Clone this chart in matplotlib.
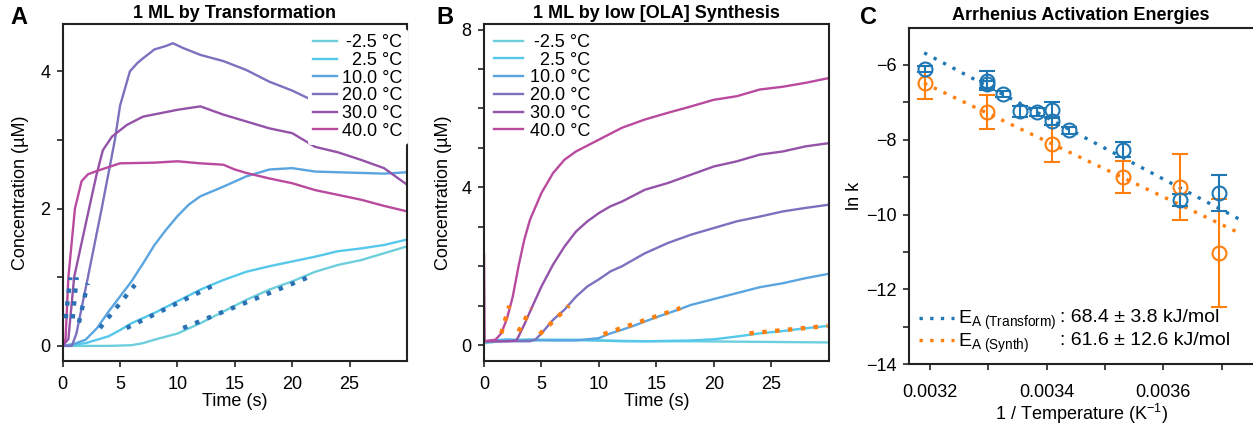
import numpy as np
import matplotlib
matplotlib.use("Agg")
import matplotlib.pyplot as plt
from matplotlib.ticker import MultipleLocator, FuncFormatter
from matplotlib.lines import Line2D

plt.rcParams['font.family'] = ['Liberation Sans', 'DejaVu Sans']
plt.rcParams['mathtext.fontset'] = 'custom'
plt.rcParams['mathtext.rm'] = 'Liberation Sans'
plt.rcParams['mathtext.it'] = 'Liberation Sans:italic'
plt.rcParams['font.size'] = 13

# ---------------- data ----------------
temps = ['-2.5 °C', '2.5 °C', '10.0 °C', '20.0 °C', '30.0 °C', '40.0 °C']
colors = ['#6dcfdc', '#55c8ec', '#5aa5e0', '#7a72bf', '#9452a8', '#b94a9e']

# Panel A: 1 ML by transformation (time s, concentration uM)
a_m25_t = [0, 4, 6, 7, 8, 10, 12, 14, 16, 18, 20, 22, 24, 26, 28, 30]
a_m25_c = [0, 0.0, 0.01, 0.04, 0.09, 0.18, 0.33, 0.5, 0.67, 0.82, 0.94, 1.08, 1.18, 1.25, 1.35, 1.45]
a_p25_t = [0, 2, 4, 5, 6, 8, 10, 12, 14, 16, 18, 20, 22, 24, 26, 28, 30]
a_p25_c = [0, 0.04, 0.14, 0.23, 0.33, 0.48, 0.65, 0.82, 0.96, 1.08, 1.16, 1.23, 1.3, 1.38, 1.42, 1.47, 1.55]
a_10_t = [0, 1, 2, 3, 4, 5, 6, 7, 8, 9, 10, 11, 12, 14, 16, 18, 20, 22, 24, 26, 28, 30]
a_10_c = [0, 0.03, 0.09, 0.26, 0.5, 0.72, 0.94, 1.2, 1.47, 1.69, 1.89, 2.06, 2.18, 2.32, 2.47, 2.57, 2.59, 2.54, 2.53, 2.52, 2.51, 2.53]
a_20_t = [0, 0.8, 1.2, 2.2, 3.4, 4.55, 5.0, 5.86, 6.5, 7.0, 8.0, 9.0, 9.6, 10.5, 12, 14, 16, 18, 20, 22, 24, 26, 28, 30]
a_20_c = [0, 0.0, 0.18, 1.0, 2.0, 3.0, 3.5, 4.0, 4.12, 4.19, 4.32, 4.37, 4.41, 4.34, 4.24, 4.15, 4.02, 3.85, 3.72, 3.56, 3.45, 3.35, 3.25, 3.17]
a_30_t = [0, 0.5, 1.0, 2.3, 2.96, 3.5, 4.3, 5.6, 7, 10, 12, 14, 16, 18, 20, 21, 22, 24, 26, 28, 30]
a_30_c = [0, 0.1, 1.0, 2.0, 2.5, 2.85, 3.05, 3.22, 3.34, 3.44, 3.49, 3.37, 3.27, 3.17, 3.1, 3.0, 2.9, 2.82, 2.71, 2.59, 2.35]
a_40_t = [0, 0.25, 0.5, 1.07, 1.65, 2.2, 3, 5, 8, 10, 12, 14, 15, 16, 18, 20, 22, 24, 26, 28, 30]
a_40_c = [0, 0.1, 1.0, 2.0, 2.4, 2.5, 2.55, 2.66, 2.67, 2.69, 2.66, 2.64, 2.57, 2.52, 2.44, 2.37, 2.27, 2.2, 2.13, 2.04, 1.96]

# Panel A linear fits (start/end time, start/end conc)
a_fit_t = [(10.5, 21.4), (5.57, 13.25), (3.25, 6.3), (1.42, 2.18), (0.87, 1.22), (0.26, 0.67)]
a_fit_c = [(0.26, 1.0), (0.26, 0.89), (0.26, 0.89), (0.34, 0.91), (0.4, 1.0), (0.4, 1.0)]

# Panel B: 1 ML by low [OLA] synthesis
b_m25_t = [0, 2, 4, 6, 8, 10, 14, 18, 22, 26, 30]
b_m25_c = [0.05, 0.12, 0.15, 0.13, 0.14, 0.12, 0.1, 0.1, 0.09, 0.08, 0.07]
b_p25_t = [0, 2, 4, 6, 8, 10, 12, 14, 16, 18, 20, 22, 24, 26, 28, 30]
b_p25_c = [0.1, 0.15, 0.12, 0.14, 0.13, 0.12, 0.1, 0.1, 0.11, 0.12, 0.15, 0.22, 0.3, 0.36, 0.43, 0.49]
b_10_t = [0, 2, 4, 6, 8, 10, 11, 12, 13, 14, 15, 16, 17, 18, 20, 22, 24, 26, 28, 30]
b_10_c = [0.1, 0.12, 0.13, 0.12, 0.12, 0.18, 0.3, 0.39, 0.49, 0.6, 0.71, 0.81, 0.91, 1.02, 1.17, 1.32, 1.47, 1.57, 1.7, 1.81]
b_20_t = [0, 2, 4, 4.5, 5, 6, 7, 8, 9, 10, 11, 12, 14, 16, 18, 20, 22, 24, 26, 28, 30]
b_20_c = [0.1, 0.1, 0.1, 0.15, 0.3, 0.64, 0.9, 1.23, 1.49, 1.67, 1.87, 2.0, 2.33, 2.59, 2.8, 2.97, 3.14, 3.26, 3.39, 3.48, 3.56]
b_30_t = [0, 2, 2.8, 3, 3.5, 4, 5, 6, 7, 8, 9, 10, 11, 12, 14, 16, 18, 20, 22, 24, 26, 28, 30]
b_30_c = [0.1, 0.1, 0.12, 0.22, 0.52, 0.85, 1.49, 2.04, 2.5, 2.88, 3.14, 3.35, 3.52, 3.64, 3.94, 4.11, 4.32, 4.53, 4.66, 4.83, 4.91, 5.04, 5.12]
b_40_t = [0, 0.05, 1, 1.5, 2, 2.5, 3, 3.5, 4, 5, 6, 7, 8, 10, 12, 14, 16, 18, 20, 22, 24, 26, 28, 30]
b_40_c = [2.3, 0.1, 0.14, 0.3, 0.68, 1.23, 2.0, 2.67, 3.18, 3.86, 4.36, 4.7, 4.91, 5.21, 5.51, 5.72, 5.89, 6.05, 6.22, 6.31, 6.48, 6.55, 6.65, 6.77]

b_fit_t = [(23.1, 29.9), (10.4, 17.1), (4.85, 7.4), (3.0, 4.1), (1.5, 2.2)]
b_fit_c = [(0.3, 0.49), (0.28, 0.94), (0.28, 1.0), (0.35, 0.94), (0.3, 1.0)]

# Panel C: Arrhenius
c_tr_x = [0.003191, 0.003298, 0.003298, 0.003325, 0.003354, 0.003383, 0.00341, 0.00341, 0.003439, 0.003531, 0.003629, 0.003696]
c_tr_y = [-6.11, -6.42, -6.52, -6.78, -7.24, -7.26, -7.2, -7.51, -7.75, -8.27, -9.62, -9.42]
c_tr_e = [0.08, 0.25, 0.1, 0.08, 0.15, 0.1, 0.2, 0.1, 0.1, 0.2, 0.16, 0.47]
c_sy_x = [0.003191, 0.003298, 0.00341, 0.003531, 0.003629, 0.003696]
c_sy_y = [-6.47, -7.26, -8.1, -9.0, -9.26, -11.02]
c_sy_e = [0.44, 0.46, 0.5, 0.43, 0.88, 1.44]
ea_tr, ea_tr_err = 68.4, 3.8     # kJ/mol
ea_sy, ea_sy_err = 61.6, 12.6
lnA_tr, lnA_sy = 20.57, 17.15
fit_x_range = (0.00319, 0.00373)
R_gas = 8.314e-3

# ---------------- figure ----------------
fig = plt.figure(figsize=(12.53, 4.25), dpi=100)
axA = fig.add_axes([0.050, 0.1506, 0.2748, 0.7929])
axB = fig.add_axes([0.3863, 0.1506, 0.2751, 0.7929])
axC = fig.add_axes([0.7257, 0.1428, 0.2743, 0.7906])

spine_col = '#222222'
for ax in (axA, axB, axC):
    for s in ax.spines.values():
        s.set_linewidth(1.5)
        s.set_color(spine_col)
    ax.tick_params(direction='out', length=4, width=1.2, labelsize=13, color=spine_col, pad=5)
    ax.tick_params(axis='x', pad=7)
axC.spines['right'].set_visible(False)


def every(n, fmt='{:g}'):
    def f(v, pos):
        if abs(v / n - round(v / n)) < 1e-6:
            return fmt.format(round(v, 6)).replace('-', '\u2212')
        return ''
    return FuncFormatter(f)


def right_align_legend(ax, leg, labels):
    """Legend placeholders are hidden; the real labels are drawn right-aligned."""
    fig.canvas.draw()
    r = fig.canvas.get_renderer()
    inv = ax.transAxes.inverted()
    for t, lab in zip(leg.get_texts(), labels):
        bb = t.get_window_extent(r)
        t.set_visible(False)
        x, y = inv.transform((bb.x1, (bb.y0 + bb.y1) / 2))
        ax.text(x, y, lab, transform=ax.transAxes, ha='right', va='center',
                fontsize=t.get_fontsize(), zorder=10)


lw = 1.7
wide = ['10.0 °C'] * len(temps)
leg_kw = dict(fontsize=13, labelspacing=0.04, borderpad=0.3)
# Panel A
a_series = [(a_m25_t, a_m25_c), (a_p25_t, a_p25_c), (a_10_t, a_10_c),
            (a_20_t, a_20_c), (a_30_t, a_30_c), (a_40_t, a_40_c)]
for (t, c), col, lab in zip(a_series, colors, wide):
    axA.plot(t, c, color=col, lw=lw, label=lab)
for (t0, t1), (c0, c1) in zip(a_fit_t, a_fit_c):
    axA.plot([t0, t1], [c0, c1], color='#2a72b5', lw=3.2, linestyle=(0, (1, 1.9)), zorder=5)
axA.set_xlim(0, 30)
axA.set_ylim(-0.22, 4.69)
axA.set_xticks([0, 5, 10, 15, 20, 25])
axA.yaxis.set_major_locator(MultipleLocator(1))
axA.yaxis.set_major_formatter(every(2))
axA.set_xlabel('Time (s)', fontsize=13, labelpad=0)
axA.set_ylabel('Concentration (µM)', fontsize=13, labelpad=8)
axA.set_title('1 ML by Transformation', fontsize=13, fontweight='bold', pad=4)
legA = axA.legend(loc='upper right', bbox_to_anchor=(1.01, 0.994), frameon=True, facecolor='white',
                  edgecolor='none', framealpha=1, handlelength=1.3, handletextpad=0.3,
                  borderaxespad=0.15, **leg_kw)

# Panel B
b_series = [(b_m25_t, b_m25_c), (b_p25_t, b_p25_c), (b_10_t, b_10_c),
            (b_20_t, b_20_c), (b_30_t, b_30_c), (b_40_t, b_40_c)]
for (t, c), col, lab in zip(b_series, colors, wide):
    axB.plot(t, c, color=col, lw=lw, label=lab)
for (t0, t1), (c0, c1) in zip(b_fit_t, b_fit_c):
    axB.plot([t0, t1], [c0, c1], color='#ff7f0e', lw=3.2, linestyle=(0, (1, 1.9)), zorder=5)
axB.set_xlim(0, 30)
axB.set_ylim(-0.4, 8.14)
axB.set_xticks([0, 5, 10, 15, 20, 25])
axB.yaxis.set_major_locator(MultipleLocator(1))
axB.yaxis.set_major_formatter(every(4))
axB.set_xlabel('Time (s)', fontsize=13, labelpad=0)
axB.set_ylabel('Concentration (µM)', fontsize=13, labelpad=7)
axB.set_title('1 ML by low [OLA] Synthesis', fontsize=13, fontweight='bold', pad=4)
legB = axB.legend(loc='upper left', frameon=False, handlelength=1.6,
                  handletextpad=0.4, borderaxespad=0.25, **leg_kw)

# Panel C
xf = np.array(fit_x_range)
axC.plot(xf, lnA_tr - ea_tr / R_gas * xf, color='#1f77b4', lw=2.4, linestyle=(0, (1, 2.2)))
axC.plot(xf, lnA_sy - ea_sy / R_gas * xf, color='#ff7f0e', lw=2.4, linestyle=(0, (1, 2.2)))
axC.errorbar(c_sy_x, c_sy_y, yerr=c_sy_e, fmt='o', mfc='none', mec='#ff7f0e', ecolor='#ff7f0e',
             ms=10, mew=1.5, elinewidth=1.5, capsize=6, capthick=1.5)
axC.errorbar(c_tr_x, c_tr_y, yerr=c_tr_e, fmt='o', mfc='none', mec='#1f77b4', ecolor='#1f77b4',
             ms=10, mew=1.5, elinewidth=1.5, capsize=6, capthick=1.5)
axC.set_xlim(0.0031645, 0.003754)
axC.set_ylim(-14.0, -5.02)
axC.xaxis.set_major_locator(MultipleLocator(0.0001))
axC.xaxis.set_major_formatter(every(0.0002, '{:.4f}'))
axC.yaxis.set_major_locator(MultipleLocator(1))
axC.yaxis.set_major_formatter(every(2, '{:.0f}'))
axC.tick_params(axis='x', pad=10)
axC.set_xlabel('1 / Temperature (K$^{-1}$)', fontsize=13, labelpad=1)
axC.set_ylabel('ln k', fontsize=13, labelpad=2)
axC.set_title('Arrhenius Activation Energies', fontsize=13, fontweight='bold', pad=6)
hC = [Line2D([], [], color='#1f77b4', lw=2.4, linestyle=(0, (1, 2.2))),
      Line2D([], [], color='#ff7f0e', lw=2.4, linestyle=(0, (1, 2.2)))]
legC = axC.legend(hC, [r'$\mathrm{E_{A\ (Transform)}}$', r'$\mathrm{E_{A\ (Synth)}}$'],
                  loc='lower left', fontsize=14, frameon=False, handlelength=1.8,
                  handletextpad=0.2, labelspacing=-0.05, borderpad=0.2, borderaxespad=0.3)

right_align_legend(axA, legA, temps)
right_align_legend(axB, legB, temps)

fig.canvas.draw()
r = fig.canvas.get_renderer()
texts = legC.get_texts()
xr = max(t.get_window_extent(r).x1 for t in texts)
vals = [f': {ea_tr} ± {ea_tr_err} kJ/mol', f': {ea_sy} ± {ea_sy_err} kJ/mol']
inv = axC.transAxes.inverted()
for t, v in zip(texts, vals):
    bb = t.get_window_extent(r)
    x, y = inv.transform((xr + 4, bb.y0 + bb.height * 0.62))
    axC.text(x, y, v, transform=axC.transAxes, fontsize=14, va='center', ha='left')

# panel letters
fig.text(0.008, 0.987, 'A', fontsize=17, fontweight='bold', va='top')
fig.text(0.348, 0.987, 'B', fontsize=17, fontweight='bold', va='top')
fig.text(0.6865, 0.987, 'C', fontsize=17, fontweight='bold', va='top')

fig.savefig('out.png', dpi=100)
